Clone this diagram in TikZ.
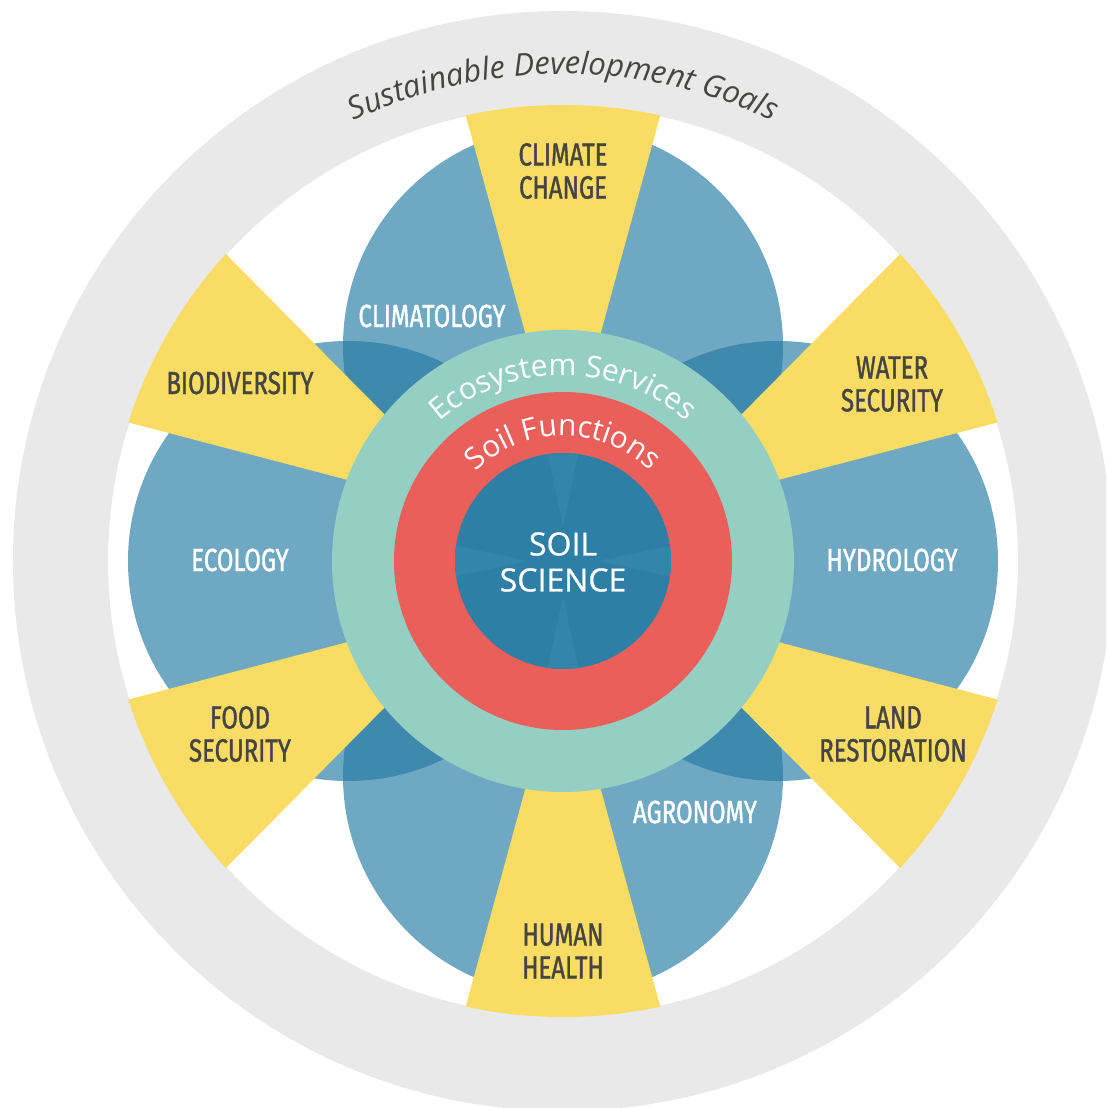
\documentclass[tikz,border=0pt]{standalone}
\usepackage{fontspec}
\usetikzlibrary{decorations.text}
\newfontfamily\labfont[FakeStretch=0.75, FakeBold=1.2]{Fira Sans}
\newfontfamily\arcfont{Open Sans}
\newfontfamily\corefont[FakeBold=0.6]{Open Sans}
\definecolor{sdggray}{HTML}{E9E9E9}
\definecolor{petal}{HTML}{6FA8C2}
\definecolor{petaldark}{HTML}{3E89AD}
\definecolor{wedgeyel}{HTML}{F9DC64}
\definecolor{teal}{HTML}{95CEC3}
\definecolor{soilred}{HTML}{EA5F5A}
\definecolor{core}{HTML}{2E7FA5}
\definecolor{corelight}{HTML}{3485AA}
\definecolor{darktext}{HTML}{464540}
\tikzset{
  yellab/.style={font=\labfont\fontsize{32}{33}\selectfont, text=darktext, align=center, inner sep=0pt},
  bluelab/.style={font=\labfont\fontsize{32}{33}\selectfont, text=white, align=center, inner sep=0pt},
}
\begin{document}
\begin{tikzpicture}[x=1pt,y=1pt]
\useasboundingbox (-563,-547) rectangle (543,561);
\clip (-563,-547) rectangle (543,561);
\fill[white] (-563,-547) rectangle (543,561);
% outer SDG ring
\fill[sdggray, even odd rule] (0,0) circle (550) (0,0) circle (455);
% blue discipline discs
\foreach \a in {0,90,180,270} \fill[petal] (\a:215) circle (220);
\foreach \a/\b in {0/90,90/180,180/270,270/360} {
  \begin{scope}
    \clip (\a:215) circle (220);
    \fill[petaldark] (\b:215) circle (220);
  \end{scope}
}
% yellow wedges
\begin{scope}
  \clip (0,0) circle (456);
  \foreach \t in {30,90,150,210,270,330}
    \fill[wedgeyel, shift={(\t:90)}] (0,0) -- (\t+15.3:700) -- (\t-15.3:700) -- cycle;
\end{scope}
% rings
\fill[teal] (0,0) circle (231);
\fill[soilred] (0,0) circle (169);
\fill[core] (0,0) circle (108);
\begin{scope}
  \clip (0,0) circle (108);
  \foreach \t in {0,90,180,270}
    \fill[corelight, shift={(\t:35)}] (0,0) -- (\t+12:120) -- (\t-12:120) -- cycle;
\end{scope}
% curved texts
\path[decorate, decoration={text along path, text align=center, text color=darktext,
  text={|\arcfont\itshape\fontsize{31}{31}\selectfont|Sustainable Development Goals}}]
  (178:487) arc[start angle=178, end angle=2, radius=487];
\path[decorate, decoration={text along path, text align=center, text color=white,
  text={|\arcfont\fontsize{30}{30}\selectfont|Ecosystem Services}}]
  (178:186) arc[start angle=178, end angle=2, radius=186];
\path[decorate, decoration={text along path, text align=center, text color=white,
  text={|\arcfont\fontsize{30}{30}\selectfont|Soil Functions}}]
  (178:125) arc[start angle=178, end angle=2, radius=125];
% centre
\node[font=\corefont\fontsize{32}{36}\selectfont, text=white, align=center] (soil) at (0,-1) {SOIL\\SCIENCE};
% labels
\node[yellab] (cc) at (0,390) {CLIMATE\\CHANGE};
\node[yellab] (bio) at (-323,178) {BIODIVERSITY};
\node[yellab] (ws) at (329,177) {WATER\\SECURITY};
\node[yellab] (fs) at (-323,-173) {FOOD\\SECURITY};
\node[yellab] (lr) at (330,-173) {LAND\\RESTORATION};
\node[yellab] (hh) at (0,-390) {HUMAN\\HEALTH};
\node[bluelab] (clim) at (-131,245) {CLIMATOLOGY};
\node[bluelab] (eco) at (-323,1) {ECOLOGY};
\node[bluelab] (hyd) at (329,1) {HYDROLOGY};
\node[bluelab] (agr) at (132,-251) {AGRONOMY};
\end{tikzpicture}
\end{document}
